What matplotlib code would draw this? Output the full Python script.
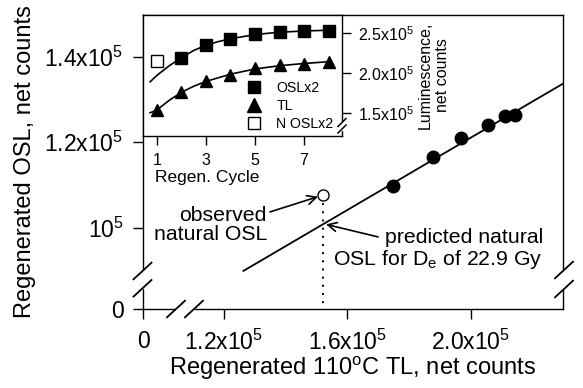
import numpy as np
import matplotlib
matplotlib.use('Agg')
import matplotlib.pyplot as plt
from matplotlib.lines import Line2D
from matplotlib.patches import Rectangle

plt.rcParams['font.family'] = ['Liberation Sans', 'DejaVu Sans']
plt.rcParams['mathtext.fontset'] = 'custom'
plt.rcParams['mathtext.rm'] = 'Liberation Sans'
plt.rcParams['mathtext.it'] = 'Liberation Sans:italic'
plt.rcParams['mathtext.bf'] = 'Liberation Sans:bold'

# ---------------- main plot data ----------------
regen_tl = [1.747e5, 1.877e5, 1.968e5, 2.057e5, 2.111e5, 2.144e5]
regen_osl = [1.098e5, 1.166e5, 1.209e5, 1.240e5, 1.261e5, 1.264e5]
fit_tl = [1.263e5, 2.30e5]
fit_osl = [0.900e5, 1.337e5]
natural_tl = 1.522e5
natural_osl = 1.077e5
predicted_osl = 1.010e5

main_xticks = [0, 1.2e5, 1.6e5, 2.0e5]
main_xticklabels = ['0', '1.2x10$^5$', '1.6x10$^5$', '2.0x10$^5$']
main_yticks = [0, 1.0e5, 1.2e5, 1.4e5]
main_yticklabels = ['0', '10$^5$', '1.2x10$^5$', '1.4x10$^5$']

# ---------------- inset data ----------------
osl_cycles = [2, 3, 4, 5, 6, 7, 8]
osl_x2 = [2.19e5, 2.352e5, 2.417e5, 2.49e5, 2.512e5, 2.525e5, 2.525e5]
tl_cycles = [1, 2, 3, 4, 5, 6, 7, 8]
tl_vals = [1.537e5, 1.763e5, 1.895e5, 1.98e5, 2.06e5, 2.10e5, 2.113e5, 2.14e5]
nosl_cycles = [1]
nosl_x2 = [2.154e5]
osl_fit_cyc = [0.72, 1.0, 1.5, 2.0, 2.5, 3.0, 3.5, 4.0, 5.0, 6.0, 7.0, 8.0]
osl_fit_val = [1.89e5, 1.97e5, 2.09e5, 2.19e5, 2.28e5, 2.345e5, 2.39e5, 2.425e5, 2.478e5, 2.507e5, 2.522e5, 2.532e5]
tl_fit_cyc = [0.72, 1.0, 1.5, 2.0, 2.5, 3.0, 4.0, 5.0, 6.0, 7.0, 8.0]
tl_fit_val = [1.505e5, 1.54e5, 1.66e5, 1.76e5, 1.835e5, 1.895e5, 1.985e5, 2.05e5, 2.09e5, 2.118e5, 2.14e5]
inset_xticks = [1, 3, 5, 7]
inset_yticks = [1.5e5, 2.0e5, 2.5e5]
inset_yticklabels = ['1.5x10$^5$', '2.0x10$^5$', '2.5x10$^5$']

W, H = 583, 388
fig = plt.figure(figsize=(W / 100, H / 100), dpi=100)

def fr(px, py):
    return px / W, 1 - py / H

# broken-axis scales
X_F0, X_BRK = 0.9373e5, 1.08e5
Y_F0, Y_BRK = 0.8111e5, 0.88e5

def make_scale(f0, brk):
    def fwd(v):
        v = np.asarray(v, float)
        return np.where(v >= brk, v, f0 + v * (brk - f0) / brk)
    def inv(u):
        u = np.asarray(u, float)
        return np.where(u >= brk, u, (u - f0) * brk / (brk - f0))
    return fwd, inv

l, b = fr(143, 309)
r, t = fr(563, 15)
ax = fig.add_axes([l, b, r - l, t - b])
ax.set_xscale('function', functions=make_scale(X_F0, X_BRK))
ax.set_yscale('function', functions=make_scale(Y_F0, Y_BRK))
ax.set_xlim(0, 2.2993e5)
ax.set_ylim(0, 1.4968e5)

ax.plot(fit_tl, fit_osl, color='black', lw=1.3, zorder=2)
ax.plot(regen_tl, regen_osl, 'o', color='black', ms=9, zorder=3)
ax.plot([natural_tl, natural_tl], [natural_osl, 0], color='black', lw=1.4,
        linestyle=(0, (1, 3.2)), zorder=1)
ax.plot([natural_tl], [natural_osl], 'o', mfc='white', mec='black', mew=1.0, ms=8, zorder=4)

ax.set_xticks(main_xticks)
ax.set_xticklabels(main_xticklabels)
ax.set_yticks(main_yticks)
ax.set_yticklabels(main_yticklabels)
ax.tick_params(axis='both', direction='out', length=7, width=1.0, labelsize=16.5)
ax.tick_params(axis='x', pad=8)
ax.tick_params(axis='y', pad=7)
for s in ax.spines.values():
    s.set_linewidth(1.0)

ax.set_xlabel('Regenerated 110$^{\\mathrm{o}}$C TL, net counts', fontsize=17, labelpad=0)
ax.set_ylabel('Regenerated OSL, net counts', fontsize=17, labelpad=6)

# annotations
ax.text(0.2952, 0.2857, 'observed\nnatural OSL', transform=ax.transAxes,
        ha='right', va='center', multialignment='right', fontsize=15.3, linespacing=1.05)
ax.annotate('', xy=(natural_tl, natural_osl), xytext=(-38.4, -12.2), textcoords='offset points',
            arrowprops=dict(arrowstyle='->', lw=1.2, color='black', shrinkA=0, shrinkB=4,
                            mutation_scale=16))
ax.text(0.952, 0.2024, 'predicted natural\nOSL for D$_\\mathrm{e}$ of 22.9 Gy', transform=ax.transAxes,
        ha='right', va='center', multialignment='right', fontsize=15.3, linespacing=1.05)
ax.annotate('', xy=(natural_tl, predicted_osl), xytext=(39.4, -9.5), textcoords='offset points',
            arrowprops=dict(arrowstyle='->', lw=1.2, color='black', shrinkA=0, shrinkB=2,
                            mutation_scale=16))

# break marks on main axes
def gap_v(px, y0, y1):
    x0, yy0 = fr(px - 3, y1)
    x1, yy1 = fr(px + 3, y0)
    fig.add_artist(Rectangle((x0, yy0), x1 - x0, yy1 - yy0, transform=fig.transFigure,
                             color='white', zorder=10))

def gap_h(py, x0p, x1p):
    x0, y0 = fr(x0p, py + 3)
    x1, y1 = fr(x1p, py - 3)
    fig.add_artist(Rectangle((x0, y0), x1 - x0, y1 - y0, transform=fig.transFigure,
                             color='white', zorder=10))

def slash(cx, cy, hx, hy, lw=1.3):
    xa, ya = fr(cx - hx, cy + hy)
    xb, yb = fr(cx + hx, cy - hy)
    fig.add_artist(Line2D([xa, xb], [ya, yb], transform=fig.transFigure,
                          color='black', lw=lw, zorder=11))

gap_v(143, 271, 288)
slash(142.5, 271, 9, 8.3)
slash(142.5, 288.3, 9, 8.3)
gap_v(563, 271, 289)
slash(564, 270, 9, 8.3)
slash(564, 289, 9, 8.3)
gap_h(309, 176, 194)
slash(176, 309, 9, 8.3)
slash(194, 309, 9, 8.3)

# ---------------- inset ----------------
il, ib = fr(143, 136)
ir, it = fr(342, 15)
axi = fig.add_axes([il, ib, ir - il, it - ib])
axi.set_facecolor('white')
axi.set_xlim(0.43, 8.55)
axi.set_ylim(1.216e5, 2.721e5)
axi.plot(osl_fit_cyc, osl_fit_val, color='black', lw=1.2, zorder=2)
axi.plot(tl_fit_cyc, tl_fit_val, color='black', lw=1.2, zorder=2)
axi.plot(osl_cycles, osl_x2, 's', color='black', ms=8, zorder=3, label='OSLx2')
axi.plot(tl_cycles, tl_vals, '^', color='black', ms=9, zorder=3, label='TL')
axi.plot(nosl_cycles, nosl_x2, 's', mfc='white', mec='black', mew=1.0, ms=8, zorder=3, label='N OSLx2')
axi.set_xticks(inset_xticks)
axi.set_xticklabels([str(c) for c in inset_xticks])
axi.set_yticks(inset_yticks)
axi.set_yticklabels(inset_yticklabels)
axi.yaxis.tick_right()
axi.yaxis.set_label_position('right')
axi.tick_params(axis='both', direction='out', length=6.5, width=1.0, labelsize=11.5)
axi.tick_params(axis='x', pad=6)
axi.tick_params(axis='y', pad=5)
for s in axi.spines.values():
    s.set_linewidth(1.0)
axi.set_xlabel('Regen. Cycle', fontsize=12.5)
axi.xaxis.set_label_coords(0.325, -0.285)
axi.set_ylabel('Luminescence,\nnet counts', fontsize=11.5, labelpad=3, multialignment='center')
leg = axi.legend(loc='lower right', bbox_to_anchor=(1.0, -0.03), frameon=False, fontsize=10.2,
                 numpoints=1, handlelength=1.0, handletextpad=1.1, labelspacing=0.3,
                 borderpad=0.1, markerscale=1.1)
# inset right-spine break
gap_v(342, 122, 130)
slash(342, 122.5, 4, 4, lw=1.1)
slash(342, 129, 4, 4, lw=1.1)

fig.savefig('out.png', dpi=100)
